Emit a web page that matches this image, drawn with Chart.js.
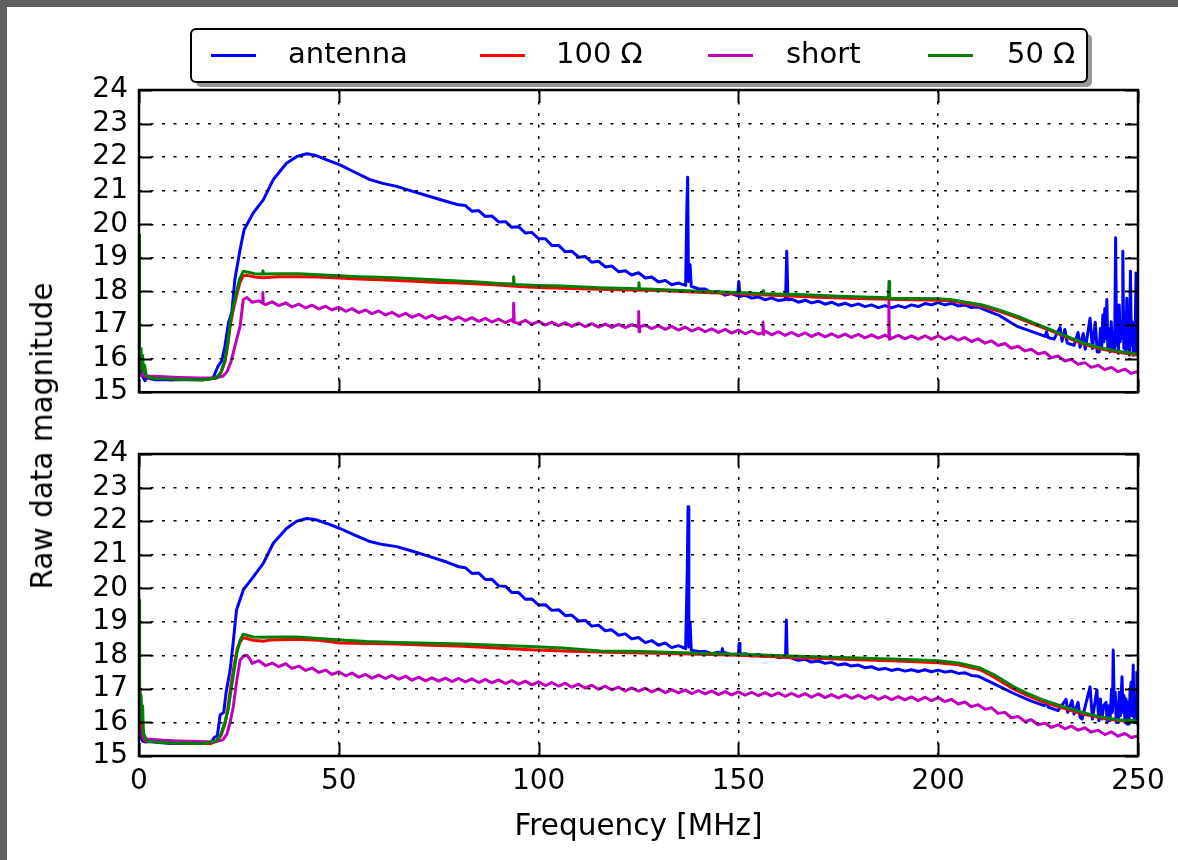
<!DOCTYPE html>
<html>
<head>
<meta charset="utf-8">
<script src="https://cdn.jsdelivr.net/npm/chart.js@4.4.1/dist/chart.umd.min.js"></script>
<style>
  html, body { margin: 0; padding: 0; }
  body { width: 1178px; height: 860px; background: #5f5f5f; position: relative; overflow: hidden; }
  #sheet { position: absolute; left: 7px; top: 7px; width: 1171px; height: 853px; background: #fff; }
  canvas { position: absolute; left: 0; }
  #top { top: 0; }
  #bottom { top: 420px; }
  #ylabel {
    position: absolute; left: 42px; top: 436px;
    transform: translate(-50%, -50%) rotate(-90deg);
    font: 29.5px "DejaVu Sans", sans-serif; color: #000; white-space: nowrap;
  }
</style>
</head>
<body>
<div id="sheet"></div>
<canvas id="top" width="1178" height="420"></canvas>
<canvas id="bottom" width="1178" height="440"></canvas>
<div id="ylabel">Raw data magnitude</div>
<script>
const freqTicks = [0, 50, 100, 150, 200, 250];
const magTicks = [15, 16, 17, 18, 19, 20, 21, 22, 23, 24];
const seriesNames = ["antenna", "100 \u03a9", "short", "50 \u03a9"];
const seriesColors = ["#0000ff", "#ff0000", "#bf00bf", "#008000"];

// top panel, [MHz, magnitude]
const antennaTop = [[0,16.2],[0.3,15.6],[0.6,15.9],[1,15.45],[1.5,15.34],[2,15.45],[3,15.4],[4,15.37],[6,15.38],[8,15.36],[10,15.38],[13,15.37],[16,15.37],[18,15.4],[18.6,15.44],[19.8,15.78],[20.7,15.93],[21.5,16.37],[22.4,17.07],[23.2,17.37],[24,18.36],[25.3,19.25],[26.3,19.84],[28.6,20.34],[31.1,20.73],[33.6,21.33],[36.9,21.82],[39.5,22.02],[42,22.1],[44,22.06],[47,21.92],[50.3,21.77],[54,21.55],[57.8,21.33],[61,21.22],[64.5,21.13],[68.5,20.98],[72.8,20.83],[77,20.68],[80,20.58],[81.7,20.56],[83.3,20.39],[85,20.41],[86.7,20.23],[88.3,20.25],[90,20.07],[91.7,20.08],[93.3,19.91],[95,19.93],[96.7,19.74],[98.3,19.76],[100,19.57],[101.7,19.57],[103.3,19.37],[105,19.37],[106.7,19.18],[108.3,19.2],[110,19.02],[111.7,19.04],[113.3,18.87],[115,18.9],[116.7,18.73],[118.3,18.76],[120,18.59],[121.7,18.62],[123.3,18.49],[125,18.56],[126.7,18.4],[128.3,18.43],[130,18.28],[131.7,18.33],[133.3,18.2],[135,18.25],[136.8,18.18],[137.1,20.5],[137.3,21.4],[137.5,18.3],[137.9,18.8],[138.2,18.15],[140,18.08],[141.7,18.07],[143.3,17.96],[145,18],[146.7,17.89],[148.3,17.94],[149.8,17.87],[150.1,18.3],[150.4,17.86],[151.7,17.89],[153.3,17.8],[155,17.84],[156.7,17.75],[158.3,17.81],[160,17.73],[161.8,17.76],[162.1,19.2],[162.4,17.75],[163.3,17.77],[165,17.68],[166.7,17.74],[168.3,17.66],[170,17.71],[171.7,17.62],[173.3,17.68],[175,17.59],[176.7,17.65],[178.3,17.57],[180,17.63],[181.7,17.55],[183.3,17.6],[185,17.52],[186.7,17.58],[188.3,17.51],[190,17.58],[191.7,17.52],[193.3,17.6],[195,17.55],[196.7,17.64],[198.3,17.6],[200,17.67],[201.7,17.6],[203.3,17.65],[205,17.57],[206.7,17.6],[208.3,17.52],[210,17.54],[211.7,17.45],[215.5,17.27],[219.6,16.97],[224,16.78],[226.8,16.66],[227.1,16.8],[227.5,16.63],[229,16.58],[230.5,16.93],[231,16.52],[231.7,16.87],[232.3,16.46],[234,16.4],[235,16.78],[235.5,16.34],[236.3,16.75],[236.8,16.28],[238,17.2],[238.6,16.3],[239.3,17.08],[239.8,16.2],[240.3,16.2],[240.6,16.9],[240.9,16.3],[241.2,17.3],[241.45,16.5],[241.7,17.49],[241.95,16.6],[242.2,17.76],[242.45,16.3],[242.7,16.9],[243,16.2],[243.3,17.1],[243.6,16.25],[243.9,16.8],[244.15,16.3],[244.4,19.6],[244.65,16.4],[244.9,17.2],[245.1,16.15],[245.3,17.6],[245.55,16.5],[245.8,17.1],[246,16.6],[246.2,19.2],[246.45,16.3],[246.7,17.3],[246.95,16.2],[247.2,17.8],[247.4,16.3],[247.6,16.9],[247.85,16.1],[248.1,18.6],[248.35,16.4],[248.6,17.1],[248.8,16.1],[249,16.9],[249.25,16.2],[249.5,18.55],[249.75,16.15],[250,18.5]];
const ohm100Top = [[0,16],[0.3,15.7],[0.7,15.9],[1.2,15.5],[2,15.45],[4,15.42],[8,15.4],[12,15.38],[16,15.37],[19.4,15.42],[20.5,15.58],[21.5,15.9],[22.2,16.4],[22.8,16.97],[23.6,17.45],[24.4,17.86],[25.2,18.25],[26.1,18.47],[27,18.48],[29,18.43],[31,18.41],[35,18.44],[40,18.44],[45,18.43],[50,18.4],[55,18.37],[60,18.35],[65,18.33],[70,18.3],[75,18.27],[80,18.25],[85,18.22],[90,18.19],[95,18.15],[100,18.12],[110,18.08],[120,18.05],[130,18.03],[140,17.98],[150,17.93],[160,17.88],[170,17.83],[180,17.79],[190,17.76],[200,17.74],[203,17.72],[207,17.64],[211,17.56],[215,17.42],[219.6,17.23],[224,17.02],[228,16.84],[232,16.64],[236,16.45],[240,16.31],[244.7,16.2],[250,16.1]];
const shortTop = [[0,15.6],[0.5,15.5],[1,15.55],[2,15.48],[5,15.47],[10,15.44],[15,15.42],[19,15.42],[21,15.48],[22,15.6],[23,15.9],[23.6,16.18],[24.5,16.6],[25.3,16.97],[26.1,17.76],[27,17.82],[28.3,17.68],[30,17.72],[30.9,17.66],[31,17.97],[31.1,17.64],[31.7,17.61],[33.3,17.69],[35,17.58],[36.7,17.66],[38.3,17.54],[40,17.62],[41.7,17.51],[43.3,17.59],[45,17.48],[46.7,17.56],[48.3,17.45],[50,17.53],[51.7,17.41],[53.3,17.49],[55,17.37],[56.7,17.45],[58.3,17.34],[60,17.42],[61.7,17.3],[63.3,17.38],[65,17.26],[66.7,17.35],[68.3,17.23],[70,17.32],[71.7,17.2],[73.3,17.29],[75,17.18],[76.7,17.26],[78.3,17.15],[80,17.24],[81.7,17.13],[83.3,17.22],[85,17.11],[86.7,17.2],[88.3,17.09],[90,17.18],[91.7,17.07],[93.3,17.16],[93.6,17.1],[93.75,17.65],[93.9,17.08],[95,17.05],[96.7,17.14],[98.3,17.02],[100,17.11],[101.7,17],[103.3,17.09],[105,16.98],[106.7,17.07],[108.3,16.96],[110,17.06],[111.7,16.95],[113.3,17.04],[115,16.94],[116.7,17.03],[118.3,16.93],[120,17.02],[121.7,16.92],[123.3,17.01],[124.9,16.95],[125.05,17.4],[125.15,16.8],[125.3,16.95],[126.7,17],[128.3,16.89],[130,16.98],[131.7,16.87],[133.3,16.96],[135,16.85],[136.7,16.94],[138.3,16.82],[140,16.91],[141.7,16.8],[143.3,16.89],[145,16.78],[146.7,16.87],[148.3,16.76],[150,16.85],[151.7,16.74],[153.3,16.83],[155,16.73],[156,16.77],[156.15,17.09],[156.3,16.72],[156.45,16.77],[156.7,16.82],[158.3,16.71],[160,16.8],[161.7,16.69],[163.3,16.78],[165,16.68],[166.7,16.77],[168.3,16.66],[170,16.75],[171.7,16.65],[173.3,16.74],[175,16.64],[176.7,16.73],[178.3,16.63],[180,16.72],[181.7,16.62],[183.3,16.71],[185,16.61],[186.7,16.7],[187.5,16.65],[187.65,17.7],[187.8,16.57],[187.95,16.64],[188.3,16.6],[190,16.69],[191.7,16.59],[193.3,16.68],[195,16.58],[196.7,16.68],[198.3,16.58],[200,16.68],[201.7,16.57],[203.3,16.66],[205,16.55],[206.7,16.63],[208.3,16.51],[210,16.59],[211.7,16.46],[213.3,16.53],[215,16.39],[216.7,16.45],[218.3,16.31],[220,16.37],[221.7,16.23],[223.3,16.28],[225,16.14],[226.7,16.19],[228.3,16.03],[230,16.08],[231.7,15.93],[233.3,15.98],[235,15.83],[236.7,15.88],[238.3,15.74],[240,15.8],[241.7,15.67],[243.3,15.74],[245,15.61],[246.7,15.69],[248.3,15.56],[250,15.62]];
const ohm50Top = [[0,19.7],[0.12,16.4],[0.3,16],[0.5,16.3],[0.7,15.7],[0.9,16.1],[1.1,15.6],[1.4,15.8],[1.8,15.5],[2.5,15.45],[4,15.41],[8,15.39],[12,15.38],[16,15.37],[19.4,15.43],[20.5,15.6],[21.5,15.95],[22.2,16.45],[22.8,17.02],[23.6,17.55],[24.4,17.98],[25.2,18.38],[26.1,18.6],[27,18.58],[29,18.53],[30.8,18.52],[31,18.62],[31.2,18.52],[35,18.53],[40,18.53],[45,18.5],[50,18.47],[55,18.44],[60,18.42],[65,18.4],[70,18.37],[75,18.34],[80,18.31],[85,18.28],[90,18.24],[93.6,18.22],[93.75,18.44],[93.9,18.21],[100,18.18],[106,18.16],[115,18.11],[124.95,18.08],[125.1,18.26],[125.25,18.08],[130,18.06],[140,18.01],[150,17.97],[156.05,17.93],[156.2,18.02],[156.35,17.93],[165,17.91],[175,17.86],[187.55,17.81],[187.7,18.3],[187.85,17.8],[195,17.79],[200,17.78],[203,17.76],[207,17.68],[211,17.6],[215,17.46],[219.6,17.27],[224,17.06],[228,16.87],[232,16.67],[236,16.48],[240,16.34],[244.7,16.23],[250,16.13]];

// bottom panel, [MHz, magnitude]
const antennaBot = [[0,15.9],[0.4,15.6],[0.8,15.45],[1.5,15.42],[3,15.43],[5,15.4],[8,15.37],[11,15.38],[14,15.37],[17,15.38],[18.2,15.42],[18.8,15.55],[19.6,15.6],[20.3,16.22],[21.2,16.3],[21.8,16.9],[22.8,17.56],[23.5,18.3],[24.4,19.35],[26.1,19.95],[28.6,20.34],[31.1,20.74],[33.6,21.34],[36.9,21.78],[39.5,22],[42,22.08],[44,22.05],[47,21.93],[50.3,21.78],[54,21.58],[57.8,21.39],[61,21.3],[64.5,21.24],[68.5,21.1],[72.8,20.94],[77,20.78],[80,20.64],[81.7,20.61],[83.3,20.44],[85,20.45],[86.7,20.26],[88.3,20.27],[90,20.07],[91.7,20.06],[93.3,19.87],[95,19.87],[96.7,19.67],[98.3,19.68],[100,19.5],[101.7,19.51],[103.3,19.34],[105,19.36],[106.7,19.18],[108.3,19.2],[110,19.02],[111.7,19.04],[113.3,18.87],[115,18.9],[116.7,18.73],[118.3,18.76],[120,18.6],[121.7,18.64],[123.3,18.49],[125,18.53],[126.7,18.38],[128.3,18.44],[130,18.3],[131.7,18.37],[133.3,18.23],[135,18.29],[136.8,18.2],[137.2,20.5],[137.4,22.43],[137.6,18.25],[137.9,19],[138.2,18.15],[140.4,18.11],[141.7,18.12],[143.3,18.05],[145,18.09],[145.8,18.06],[146,18.2],[146.2,18.05],[146.7,18.08],[148.3,18.02],[150,18.04],[150.2,18.36],[150.4,18.03],[151.7,18.05],[153.3,17.98],[155,18.03],[156.7,17.96],[158.3,18],[160,17.93],[161.8,17.96],[162,19.05],[162.2,17.95],[163.3,17.92],[165,17.85],[166.7,17.88],[168.3,17.8],[170,17.83],[171.7,17.76],[173.3,17.79],[175,17.71],[176.7,17.75],[178.3,17.68],[180,17.71],[181.7,17.63],[183.3,17.66],[185,17.58],[186.7,17.61],[188.3,17.55],[190,17.59],[191.7,17.53],[193.3,17.57],[195,17.52],[196.7,17.57],[198.3,17.51],[200,17.56],[201.7,17.5],[203.3,17.53],[205,17.46],[206.7,17.48],[208.3,17.4],[210,17.38],[214,17.15],[218.8,16.87],[223,16.65],[226.5,16.5],[227,16.62],[227.5,16.46],[230,16.35],[232,16.69],[232.4,16.3],[233.5,16.65],[234,16.25],[235,16.6],[235.5,16.15],[236,16.1],[238,17.06],[238.6,16.1],[239.7,16.97],[240.2,16.05],[240.6,16.7],[241,16.1],[241.4,16.5],[242,16.6],[242.3,16],[242.6,16.5],[243,16.05],[243.4,17],[243.6,16.3],[243.8,18.16],[244.05,16.5],[244.3,16.9],[244.55,16],[244.8,16.6],[245.05,16],[245.3,16.9],[245.6,16.2],[246,17.36],[246.25,16.3],[246.5,16.8],[246.75,16],[247,16.7],[247.25,15.95],[247.5,16.6],[247.75,15.95],[248,16.9],[248.3,17.2],[248.55,16.2],[248.8,17.71],[249.05,16],[249.3,16.8],[249.5,16],[249.7,17.5],[249.9,15.95],[250,16.6]];
const ohm100Bot = [[0,16.4],[0.3,15.8],[0.6,16.1],[1,15.55],[1.5,15.45],[3,15.43],[6,15.41],[10,15.39],[14,15.37],[18,15.37],[19.4,15.45],[20.5,15.6],[21.5,15.95],[22.2,16.4],[23,17.1],[23.8,17.7],[24.6,18.2],[25.4,18.42],[26.1,18.52],[27,18.5],[28.6,18.45],[31.1,18.42],[33,18.46],[39.5,18.48],[45,18.45],[50.3,18.37],[57,18.35],[64.5,18.34],[72.8,18.3],[81.2,18.27],[89.5,18.22],[97.8,18.17],[106,18.13],[115,18.1],[122.9,18.08],[130,18.06],[140,18.03],[150,18],[165,17.93],[180,17.87],[190,17.83],[200,17.78],[205,17.72],[210.5,17.57],[214,17.35],[218.8,17],[222,16.82],[226,16.62],[230,16.47],[236,16.26],[240,16.15],[245,16.06],[250,16.02]];
const shortBot = [[0,17.17],[0.3,16.9],[0.6,16.5],[1,15.7],[1.5,15.5],[3,15.5],[6,15.47],[10,15.45],[15,15.43],[19,15.42],[21,15.48],[22,15.65],[22.8,16],[23.6,16.47],[24.4,17.2],[25.3,17.86],[26.2,17.98],[27,18],[27.7,17.9],[28.3,17.76],[30,17.84],[31.7,17.69],[33.3,17.77],[35,17.66],[36.7,17.75],[38.3,17.61],[40,17.68],[41.7,17.55],[43.3,17.62],[45,17.49],[46.7,17.56],[48.3,17.43],[50,17.51],[51.7,17.39],[53.3,17.47],[55,17.35],[56.7,17.43],[58.3,17.32],[60,17.41],[61.7,17.31],[63.3,17.4],[65,17.29],[66.7,17.38],[68.3,17.26],[70,17.35],[71.7,17.24],[73.3,17.33],[75,17.23],[76.7,17.32],[78.3,17.22],[80,17.31],[81.7,17.21],[83.3,17.3],[85,17.19],[86.7,17.28],[88.3,17.18],[90,17.27],[91.7,17.16],[93.3,17.25],[95,17.14],[96.7,17.23],[98.3,17.12],[100,17.21],[101.7,17.1],[103.3,17.19],[105,17.08],[106.7,17.17],[108.3,17.05],[110,17.14],[111.7,17.02],[113.3,17.11],[115,16.99],[116.7,17.08],[118.3,16.97],[120,17.05],[121.7,16.94],[123.3,17.03],[125,16.93],[126.7,17.02],[128.3,16.91],[130,17],[131.7,16.89],[133.3,16.98],[135,16.88],[136.7,16.97],[138.3,16.86],[140,16.95],[141.7,16.85],[143.3,16.94],[145,16.83],[146.7,16.92],[148.3,16.82],[150,16.91],[151.7,16.81],[153.3,16.9],[155,16.8],[156.7,16.89],[158.3,16.79],[160,16.88],[161.7,16.78],[163.3,16.87],[165,16.77],[166.7,16.86],[168.3,16.75],[170,16.85],[171.7,16.74],[173.3,16.83],[175,16.73],[176.7,16.82],[178.3,16.72],[180,16.81],[181.7,16.71],[183.3,16.8],[185,16.69],[186.7,16.78],[188.3,16.68],[190,16.77],[191.7,16.67],[193.3,16.76],[195,16.65],[196.7,16.75],[198.3,16.65],[200,16.74],[201.7,16.62],[203.3,16.69],[205,16.55],[206.7,16.61],[208.3,16.47],[210,16.53],[211.7,16.39],[213.3,16.44],[215,16.27],[216.7,16.3],[218.3,16.14],[220,16.18],[221.7,16.03],[223.3,16.08],[225,15.93],[226.7,15.98],[228.3,15.85],[230,15.93],[231.7,15.81],[233.3,15.89],[235,15.77],[236.7,15.84],[238.3,15.71],[240,15.77],[241.7,15.64],[243.3,15.72],[245,15.59],[246.7,15.67],[248.3,15.55],[250,15.6]];
const ohm50Bot = [[0,19.65],[0.15,16.8],[0.3,16.5],[0.5,16.8],[0.7,16],[0.9,16.5],[1.1,15.7],[1.4,15.6],[2,15.45],[4,15.42],[8,15.39],[12,15.38],[16,15.37],[19.4,15.45],[20.5,15.65],[21.5,16],[22.3,16.37],[23.2,17.1],[24.5,18.07],[25.3,18.45],[26.1,18.63],[27,18.6],[28.6,18.55],[31.1,18.54],[35,18.55],[39.5,18.55],[45,18.5],[50.3,18.46],[57,18.41],[64.5,18.38],[72.8,18.36],[81.2,18.34],[89.5,18.3],[97.8,18.26],[106,18.22],[115.4,18.13],[122.9,18.12],[130,18.1],[140.4,18.06],[150,18.03],[165,17.97],[178,17.93],[190,17.88],[200,17.84],[205,17.77],[210.5,17.62],[214,17.42],[218.8,17.07],[222,16.88],[226,16.68],[230,16.52],[236,16.3],[240,16.18],[245,16.08],[250,16.05]];

const FONT = "DejaVu Sans";

// box frame + inward ticks on all four sides (classic matplotlib look)
const framePlugin = {
  id: "frame",
  afterDraw(chart) {
    const { ctx, chartArea: a, scales } = chart;
    ctx.save();
    ctx.strokeStyle = "#000";
    ctx.lineWidth = 2;
    ctx.beginPath();
    magTicks.forEach((v) => {
      const y = Math.round(scales.y.getPixelForValue(v)) + 0.5;
      ctx.moveTo(a.left, y); ctx.lineTo(a.left + 13, y);
      ctx.moveTo(a.right, y); ctx.lineTo(a.right - 13, y);
    });
    freqTicks.forEach((v) => {
      const x = Math.round(scales.x.getPixelForValue(v)) + 0.5;
      ctx.moveTo(x, a.bottom); ctx.lineTo(x, a.bottom - 13);
      ctx.moveTo(x, a.top); ctx.lineTo(x, a.top + 13);
    });
    ctx.stroke();
    ctx.lineWidth = 2.5;
    ctx.strokeRect(a.left, a.top, a.right - a.left, a.bottom - a.top);
    ctx.restore();
  },
};

// framed legend with drop shadow above the top panel
const boxLegendPlugin = {
  id: "boxLegend",
  afterDraw(chart, args, opts) {
    if (!opts.show) return;
    const { ctx } = chart;
    const box = { x: 191, y: 29, w: 896, h: 53 };
    const lineX = [211, 480, 708, 928];
    const textX = [288, 556, 786, 1007];
    const midY = box.y + box.h / 2;
    ctx.save();
    ctx.fillStyle = "rgba(0,0,0,0.4)";
    ctx.beginPath();
    ctx.roundRect(box.x + 5, box.y + 5, box.w, box.h, 5);
    ctx.fill();
    ctx.fillStyle = "#fff";
    ctx.strokeStyle = "#000";
    ctx.lineWidth = 2;
    ctx.beginPath();
    ctx.roundRect(box.x, box.y, box.w, box.h, 5);
    ctx.fill();
    ctx.stroke();
    ctx.font = "29px " + FONT;
    ctx.textBaseline = "middle";
    ctx.textAlign = "left";
    chart.data.datasets.forEach((ds, i) => {
      ctx.strokeStyle = ds.borderColor;
      ctx.lineWidth = 3;
      ctx.beginPath();
      ctx.moveTo(lineX[i], midY);
      ctx.lineTo(lineX[i] + 45, midY);
      ctx.stroke();
      ctx.fillStyle = "#000";
      ctx.fillText(ds.label, textX[i], midY);
    });
    ctx.restore();
  },
};

function makePanel(id, sets, isBottom) {
  const tickFont = { family: FONT, size: 28 };
  return new Chart(document.getElementById(id), {
    type: "line",
    data: {
      datasets: sets.map((d, i) => ({
        label: seriesNames[i],
        data: d,
        borderColor: seriesColors[i],
        borderWidth: 3,
        borderJoinStyle: "round",
        pointRadius: 0,
        tension: 0,
        fill: false,
        order: 4 - i,
      })),
    },
    options: {
      responsive: false,
      animation: false,
      events: [],
      layout: {
        padding: isBottom
          ? { left: 0, top: 34, right: 40, bottom: 0 }
          : { left: 0, top: 90, right: 40, bottom: 27 },
      },
      plugins: {
        legend: { display: false },
        tooltip: { enabled: false },
        boxLegend: { show: !isBottom },
      },
      scales: {
        x: {
          type: "linear",
          min: 0,
          max: 250,
          afterBuildTicks: (s) => { s.ticks = freqTicks.map((v) => ({ value: v })); },
          afterFit: (s) => { s.height = isBottom ? 104 : 0; },
          grid: { color: "#000", lineWidth: 1.5, drawTicks: false, z: 1 },
          border: { display: false, dash: [3, 8.5] },
          ticks: { display: isBottom, font: tickFont, color: "#000", padding: 9, maxRotation: 0, autoSkip: false },
          title: {
            display: isBottom,
            text: "Frequency [MHz]",
            font: { family: FONT, size: 29.5 },
            color: "#000",
            padding: { top: 0, bottom: 15 },
          },
        },
        y: {
          min: 15,
          max: 24,
          afterBuildTicks: (s) => { s.ticks = magTicks.map((v) => ({ value: v })); },
          afterFit: (s) => { s.width = 139; },
          grid: { color: "#000", lineWidth: 1.5, drawTicks: false, z: 1 },
          border: { display: false, dash: [3, 8.5] },
          ticks: { font: tickFont, color: "#000", padding: 11, autoSkip: false },
        },
      },
    },
    plugins: [framePlugin, boxLegendPlugin],
  });
}

makePanel("top", [antennaTop, ohm100Top, shortTop, ohm50Top], false);
makePanel("bottom", [antennaBot, ohm100Bot, shortBot, ohm50Bot], true);
</script>
</body>
</html>
